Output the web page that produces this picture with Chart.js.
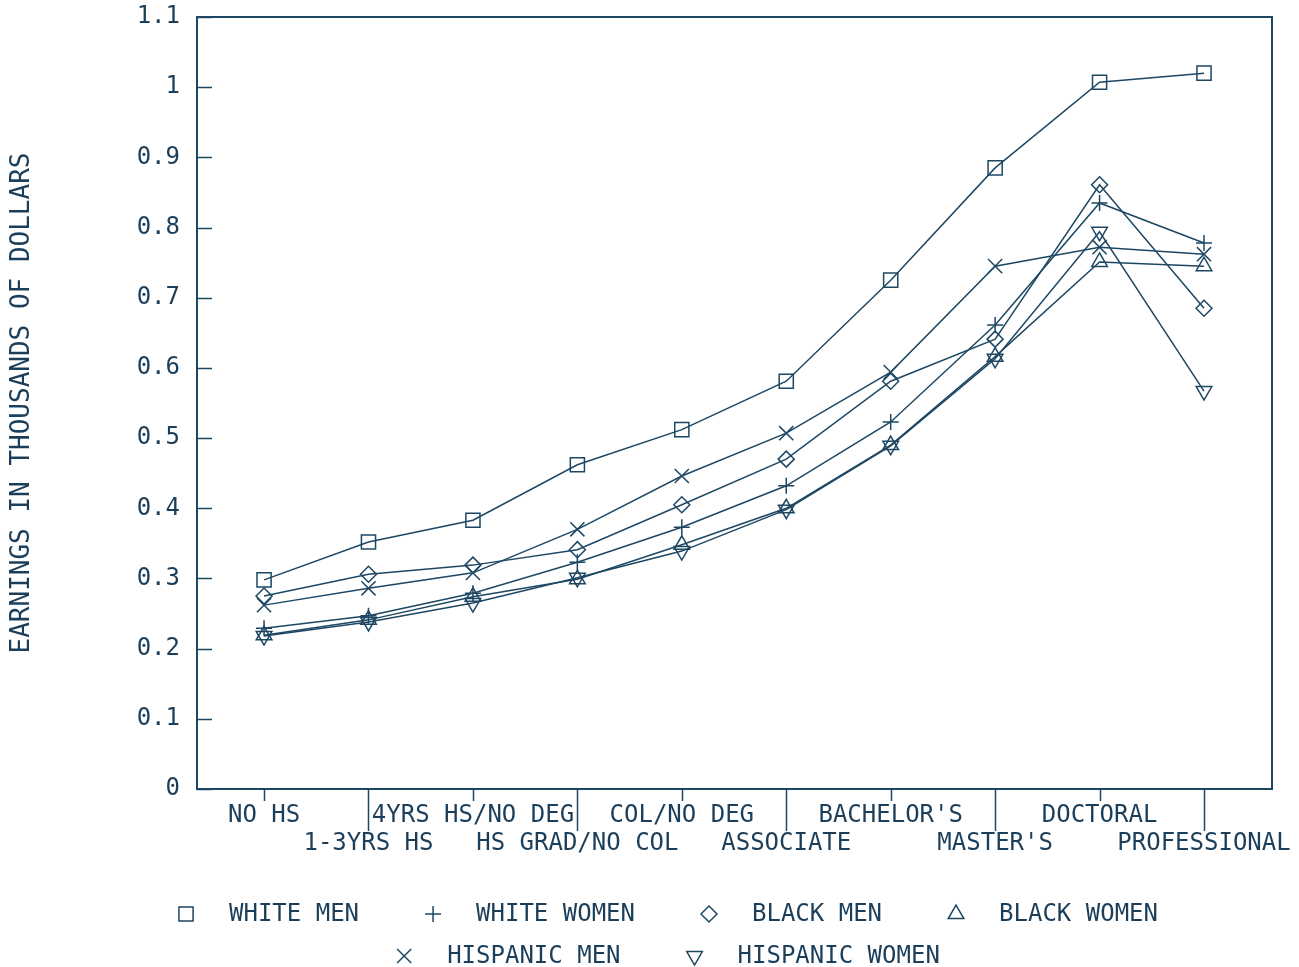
<!DOCTYPE html>
<html>
<head>
<meta charset="utf-8">
<title>Earnings by educational attainment</title>
<script src="https://cdn.jsdelivr.net/npm/chart.js@4.4.1/dist/chart.umd.min.js"></script>
<style>
  html, body { margin: 0; padding: 0; background: #ffffff; }
  #wrap { width: 1299px; height: 967px; }
</style>
</head>
<body>
<div id="wrap"><canvas id="chart" width="1299" height="967"></canvas></div>
<script>
// ---------------------------------------------------------------
// DATA
// ---------------------------------------------------------------
const categories = [
  'NO HS', '1-3YRS HS', '4YRS HS/NO DEG', 'HS GRAD/NO COL', 'COL/NO DEG',
  'ASSOCIATE', "BACHELOR'S", "MASTER'S", 'DOCTORAL', 'PROFESSIONAL'
];

const whiteMen      = [0.298, 0.352, 0.383, 0.462, 0.512, 0.581, 0.725, 0.885, 1.007, 1.020];
const whiteWomen    = [0.229, 0.247, 0.279, 0.323, 0.373, 0.432, 0.523, 0.661, 0.835, 0.778];
const blackMen      = [0.275, 0.306, 0.319, 0.341, 0.405, 0.470, 0.581, 0.641, 0.861, 0.685];
const blackWomen    = [0.219, 0.241, 0.274, 0.299, 0.348, 0.400, 0.490, 0.616, 0.751, 0.745];
const hispanicMen   = [0.262, 0.286, 0.308, 0.370, 0.446, 0.507, 0.594, 0.745, 0.772, 0.762];
const hispanicWomen = [0.218, 0.238, 0.265, 0.301, 0.339, 0.398, 0.489, 0.613, 0.794, 0.567];

const yTickValues = [0, 0.1, 0.2, 0.3, 0.4, 0.5, 0.6, 0.7, 0.8, 0.9, 1, 1.1];
const yTickLabels = ['0', '0.1', '0.2', '0.3', '0.4', '0.5', '0.6', '0.7', '0.8', '0.9', '1', '1.1'];

// legend rows (dataset indexes)
const legendRows = [[0, 1, 2, 3], [4, 5]];

// ---------------------------------------------------------------
// STYLE
// ---------------------------------------------------------------
const INK = '#1d4763';
const TEXT = '#1b3e5a';
const FONT = "'DejaVu Sans Mono', monospace";

function series(label, values, style, radius, rotation) {
  return {
    label: label,
    data: values.map((v, i) => ({ x: i, y: v })),
    borderColor: INK,
    borderWidth: 1.5,
    backgroundColor: 'rgba(0,0,0,0)',
    pointStyle: style,
    pointRadius: radius,
    pointRotation: rotation || 0,
    pointBorderColor: INK,
    pointBackgroundColor: 'rgba(0,0,0,0)',
    pointBorderWidth: 1.5,
    tension: 0
  };
}

// frame, inner y ticks, alternating x ticks
const framePlugin = {
  id: 'frame',
  afterDraw(chart) {
    const { ctx, chartArea: a } = chart;
    const x = chart.scales.x, y = chart.scales.y;
    ctx.save();
    ctx.strokeStyle = INK;
    ctx.lineWidth = 2;
    ctx.strokeRect(a.left, a.top, a.right - a.left, a.bottom - a.top);
    ctx.lineWidth = 1.5;
    ctx.beginPath();
    yTickValues.forEach(v => {
      const py = Math.round(y.getPixelForValue(v)) + 0.5;
      ctx.moveTo(a.left, py);
      ctx.lineTo(a.left + 15, py);
    });
    categories.forEach((c, i) => {
      const px = Math.round(x.getPixelForValue(i)) + 0.5;
      ctx.moveTo(px, a.bottom);
      ctx.lineTo(px, a.bottom + (i % 2 ? 42 : 12));
    });
    ctx.stroke();
    ctx.restore();
  }
};

// two-row legend below the axis labels
const legendPlugin = {
  id: 'rowLegend',
  afterDraw(chart) {
    const ctx = chart.ctx;
    const rowY = [914, 956];
    const symGap = 43, itemGap = 74, centre = 668;
    ctx.save();
    ctx.font = '24px ' + FONT;
    ctx.fillStyle = TEXT;
    ctx.strokeStyle = INK;
    ctx.lineWidth = 1.5;
    ctx.textBaseline = 'middle';
    ctx.textAlign = 'left';
    legendRows.forEach((row, r) => {
      const widths = row.map(i => ctx.measureText(chart.data.datasets[i].label).width);
      let total = 8;
      widths.forEach((w, k) => { total += symGap + w + (k < row.length - 1 ? itemGap : 0); });
      let cx = centre - total / 2 + 8;
      row.forEach((i, k) => {
        const ds = chart.data.datasets[i];
        ctx.fillStyle = 'rgba(0,0,0,0)';
        Chart.helpers.drawPoint(ctx, {
          pointStyle: ds.pointStyle,
          radius: ds.pointRadius,
          rotation: ds.pointRotation,
          borderWidth: 1.5
        }, cx, rowY[r]);
        ctx.fillStyle = TEXT;
        ctx.fillText(ds.label, cx + symGap, rowY[r] + 1);
        cx += symGap + widths[k] + itemGap;
      });
    });
    ctx.restore();
  }
};

new Chart(document.getElementById('chart'), {
  type: 'line',
  data: {
    datasets: [
      series('WHITE MEN', whiteMen, 'rect', 10),
      series('WHITE WOMEN', whiteWomen, 'cross', 8),
      series('BLACK MEN', blackMen, 'rectRot', 8),
      series('BLACK WOMEN', blackWomen, 'triangle', 9),
      series('HISPANIC MEN', hispanicMen, 'crossRot', 10),
      series('HISPANIC WOMEN', hispanicWomen, 'triangle', 9, 180)
    ]
  },
  options: {
    responsive: false,
    animation: false,
    layout: { padding: { left: 0, top: 17, right: 27, bottom: 0 } },
    plugins: {
      legend: { display: false },
      tooltip: { enabled: false },
      title: { display: false }
    },
    scales: {
      x: {
        type: 'linear',
        min: -0.642,
        max: 9.651,
        grid: { display: false, drawTicks: false },
        border: { display: false },
        afterBuildTicks: s => { s.ticks = categories.map((c, i) => ({ value: i })); },
        afterFit: s => { s.height = 178; s.paddingLeft = 0; s.paddingRight = 0; },
        ticks: {
          autoSkip: false,
          maxRotation: 0,
          minRotation: 0,
          padding: 12,
          color: TEXT,
          font: { family: FONT, size: 24 },
          callback: (v, i) => (i % 2 ? ['', categories[i]] : categories[i])
        }
      },
      y: {
        min: 0,
        max: 1.1,
        grid: { display: false, drawTicks: false },
        border: { display: false },
        afterBuildTicks: s => { s.ticks = yTickValues.map(v => ({ value: v })); },
        afterFit: s => { s.width = 197; s.paddingTop = 0; s.paddingBottom = 0; },
        ticks: {
          padding: 17,
          color: TEXT,
          font: { family: FONT, size: 24 },
          callback: (v, i) => yTickLabels[i]
        },
        title: {
          display: true,
          text: 'EARNINGS IN THOUSANDS OF DOLLARS',
          color: TEXT,
          font: { family: FONT, size: 26 },
          padding: { top: 7, bottom: 0 }
        }
      }
    }
  },
  plugins: [framePlugin, legendPlugin]
});
</script>
</body>
</html>
